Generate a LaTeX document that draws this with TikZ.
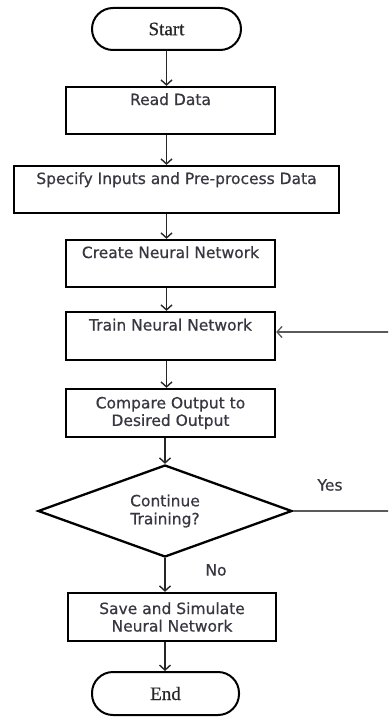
\documentclass[tikz,border=0pt]{standalone}
\usepackage{fontspec}
\usetikzlibrary{shapes.geometric,arrows.meta}
\newfontfamily\boxfont[FakeBold=0.6]{DejaVu Sans}
\newfontfamily\termfont[FakeBold=0.6]{Liberation Serif}
\definecolor{txt}{RGB}{55,55,65}
\definecolor{fb}{RGB}{90,90,90}
\tikzset{
  procbox/.style={draw=black, line width=2.3pt, rectangle, minimum height=47pt, inner sep=0pt, align=center,
    text=txt, font=\boxfont\fontsize{15.5}{17.5}\selectfont},
  termbox/.style={draw=black, line width=2pt, rectangle, rounded corners=21pt, minimum width=149pt, minimum height=42pt,
    inner sep=0pt, text=black!85, font=\termfont\fontsize{19}{21}\selectfont},
  decbox/.style={draw=black, line width=2.3pt, diamond, aspect=2.76, minimum width=254pt, minimum height=92pt,
    inner sep=0pt, align=center, text=txt, font=\boxfont\fontsize{15.5}{18}\selectfont},
  lbl/.style={text=txt, font=\boxfont\fontsize{15.5}{17.5}\selectfont, inner sep=0pt},
  flow/.style={draw=black!85, line width=1.6pt, -{Straight Barb[length=5pt,width=11pt,line width=1.4pt]}},
  fbline/.style={draw=fb, line width=1.3pt},
  fbarrow/.style={draw=fb, line width=1.3pt, -{Straight Barb[length=5pt,width=11pt,line width=1.3pt]}}
}
\begin{document}
\begin{tikzpicture}[x=1pt,y=-1pt]
\useasboundingbox (0,0) rectangle (388,717);
\clip (0,0) rectangle (388,717);
\node[termbox] (start) at (166.5,29) {Start};
\node[procbox, minimum width=209pt] (read) at (170.5,110.5) {Read Data\\\strut};
\node[procbox, minimum width=325pt] (spec) at (176.5,189.5) {Specify Inputs and Pre-process Data\\\strut};
\node[procbox, minimum width=209pt] (create) at (170.5,263.5) {Create Neural Network\\\strut};
\node[procbox, minimum width=209pt, minimum height=48pt] (train) at (170.5,336) {Train Neural Network\\\strut};
\node[procbox, minimum width=209pt, minimum height=48pt] (comp) at (170.5,413) {Compare Output to\\Desired Output};
\node[decbox] (dec) at (165,511) {Continue\\Training?};
\node[procbox, minimum width=208pt, minimum height=48pt] (save) at (172,617) {Save and Simulate\\Neural Network};
\node[termbox, minimum width=147pt, minimum height=43pt] (end) at (165.5,693.5) {End};
\node[lbl] (yes) at (330,485) {Yes};
\node[lbl] (no) at (216,570) {No};
\coordinate (r1) at (396,511);
\coordinate (r2) at (396,332);
\draw[flow] (start.south) -- (start.south |- read.north);
\draw[flow] (read.south -| start) -- (spec.north -| start);
\draw[flow] (spec.south -| start) -- (create.north -| start);
\draw[flow] (create.south -| start) -- (train.north -| start);
\draw[flow] (train.south -| start) -- (comp.north -| start);
\draw[flow] (comp.south -| dec) -- (dec.north);
\draw[flow] (dec.south) -- (dec.south |- save.north);
\draw[flow] (save.south -| dec) -- (end.north -| dec);
\draw[fbline] (dec.east) -- (r1) -- (r2);
\draw[fbarrow] (r2) -- (r2 -| train.east);
\end{tikzpicture}
\end{document}
